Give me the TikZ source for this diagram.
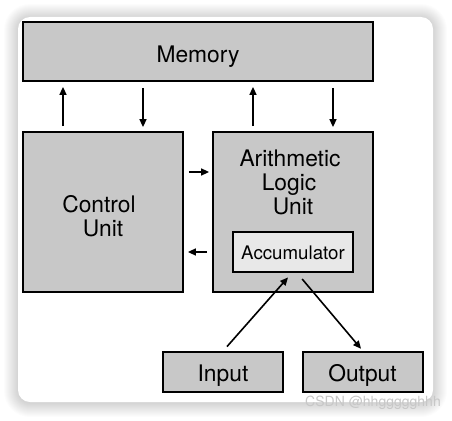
\documentclass[tikz,border=0pt]{standalone}
\usepackage{fontspec}
\setmainfont{TeX Gyre Heros}
\usetikzlibrary{arrows.meta}
\definecolor{boxgray}{HTML}{C8C8C8}
\definecolor{accgray}{HTML}{E8E8E8}
\tikzset{
  unitbox/.style={draw=black, line width=1.8pt, fill=boxgray, inner sep=0pt},
  accbox/.style={draw=black, line width=1.8pt, fill=accgray, inner sep=0pt},
  arr/.style={line width=1.6pt, -{Triangle[length=8pt,width=7pt]}},
  lbl/.style={font=\fontsize{22.8}{26}\selectfont, inner sep=0pt, anchor=base},
  smalllbl/.style={font=\fontsize{18.7}{22}\selectfont, inner sep=0pt, anchor=base}
}
\begin{document}
\begin{tikzpicture}[x=1pt,y=-1pt]
\useasboundingbox (0,0) rectangle (452,420);
\fill[white] (0,0) rectangle (452,420);
% shadow of card
\foreach \i in {1,...,14}{
  \fill[black, opacity=0.010, rounded corners={12pt+\i pt}] (18-\i,17-\i+1) rectangle (433+\i,402+\i+1);
}
\fill[white, rounded corners=12pt] (18,17) rectangle (433,402);
% boxes
\node[unitbox, minimum width=350pt, minimum height=59pt] (mem) at (198,51.5) {};
\node[unitbox, minimum width=160pt, minimum height=160pt] (ctrl) at (103,212) {};
\node[unitbox, minimum width=160pt, minimum height=160pt] (alu) at (293,212) {};
\node[accbox, minimum width=120pt, minimum height=40pt] (acc) at (293,252) {};
\node[unitbox, minimum width=120pt, minimum height=40pt] (in) at (223,372) {};
\node[unitbox, minimum width=120pt, minimum height=40pt] (out) at (363,372) {};
% labels
\node[lbl] (memtxt) at (198,63) {Memory};
\node[lbl] (ctrltxt1) at (99,212) {Control};
\node[lbl] (ctrltxt2) at (103,236) {Unit};
\node[lbl] (alutxt1) at (290,166) {Arithmetic};
\node[lbl] (alutxt2) at (289,190) {Logic};
\node[lbl] (alutxt3) at (293,214) {Unit};
\node[smalllbl] (acctxt) at (293,259) {Accumulator};
\node[lbl] (intxt) at (223,381) {Input};
\node[lbl] (outtxt) at (362.5,381) {Output};
% memory arrows
\draw[arr, shorten <=5pt, shorten >=5pt] ([xshift=-40pt]ctrl.north) -- ([xshift=-135pt]mem.south);
\draw[arr, shorten <=6pt, shorten >=4pt] ([xshift=-55pt]mem.south) -- ([xshift=40pt]ctrl.north);
\draw[arr, shorten <=5pt, shorten >=5pt] ([xshift=-40pt]alu.north) -- ([xshift=55pt]mem.south);
\draw[arr, shorten <=6pt, shorten >=4pt] ([xshift=135pt]mem.south) -- ([xshift=40pt]alu.north);
% control <-> alu
\draw[arr, shorten <=5pt, shorten >=3pt] ([yshift=40pt]ctrl.east) -- ([yshift=40pt]alu.west);
\draw[arr, shorten <=5pt, shorten >=4pt] ([yshift=-40pt]alu.west) -- ([yshift=-40pt]ctrl.east);
% io
\draw[arr, shorten <=6pt, shorten >=6pt] (in.north) -- ([xshift=-1pt]acc.south);
\draw[arr, shorten <=8pt, shorten >=3pt] ([xshift=4pt]acc.south) -- (out.north);
% watermark
\node[anchor=east, text=black!22, font=\fontsize{14}{16}\selectfont, inner sep=0pt] (wm) at (441,403) {CSDN @hhggggghhh};
\end{tikzpicture}
\end{document}
